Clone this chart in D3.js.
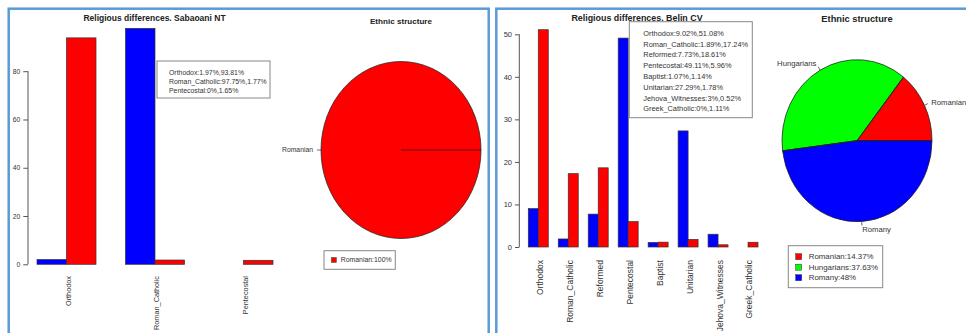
<!DOCTYPE html>
<html>
<head>
<meta charset="utf-8">
<script src="https://cdn.jsdelivr.net/npm/d3@7"></script>
<style>
  body { margin: 0; background: #fff; }
  svg { display: block; font-family: "Liberation Sans", Arial, sans-serif; }
</style>
</head>
<body>
<div id="chart"></div>
<script>
// ---- data ----
const leftCategories = ["Orthodox", "Roman_Catholic", "Pentecostal"];
const leftBlue = [1.97, 97.75, 0];
const leftRed = [93.81, 1.77, 1.65];
const leftTicks = [0, 20, 40, 60, 80];

const rightCategories = ["Orthodox", "Roman_Catholic", "Reformed", "Pentecostal",
  "Baptist", "Unitarian", "Jehova_Witnesses", "Greek_Catholic"];
const rightBlue = [9.02, 1.89, 7.73, 49.11, 1.07, 27.29, 3, 0];
const rightRed = [51.08, 17.24, 18.61, 5.96, 1.14, 1.78, 0.52, 1.11];
const rightTicks = [0, 10, 20, 30, 40, 50];

const leftEthnicNames = ["Romanian"];
const leftEthnicPct = [100];
const rightEthnicNames = ["Romanian", "Hungarians", "Romany"];
const rightEthnicPct = [14.37, 37.63, 48];
const ethnicColors = ["#ff0000", "#00ff00", "#0000ff"];

const svg = d3.select("#chart").append("svg")
    .attr("width", 966)
    .attr("height", 333);

// panel frames
svg.append("rect").attr("x", 8.7).attr("y", 8.7).attr("width", 480).attr("height", 340)
    .attr("fill", "none").attr("stroke", "#5b9bd5").attr("stroke-width", 2.5);
svg.append("rect").attr("x", 496.3).attr("y", 8.7).attr("width", 500).attr("height", 340)
    .attr("fill", "none").attr("stroke", "#5b9bd5").attr("stroke-width", 2.5);

function drawBars(cfg) {
    const g = svg.append("g");

    const x = d3.scaleBand()
        .domain(cfg.categories)
        .range(cfg.xRange)
        .paddingInner(1 / 3)
        .paddingOuter(0);
    const xs = d3.scaleBand().domain(["blue", "red"]).range([0, x.bandwidth()]);
    const y = d3.scaleLinear().domain(cfg.yDomain).range(cfg.yRange);

    // title
    g.append("text")
        .attr("x", cfg.titleX).attr("y", cfg.titleY)
        .attr("text-anchor", "middle")
        .attr("font-weight", "bold")
        .attr("font-size", cfg.titleSize)
        .attr("fill", "#222")
        .text(cfg.title);

    // y axis, R style (line only across tick range)
    const axisG = g.append("g")
        .attr("transform", `translate(${cfg.axisX},0)`)
        .call(d3.axisLeft(y).tickValues(cfg.ticks).tickSize(cfg.tickLen).tickSizeOuter(0).tickPadding(3));
    axisG.select(".domain").remove();
    axisG.append("line")
        .attr("y1", y(cfg.ticks[0])).attr("y2", y(cfg.ticks[cfg.ticks.length - 1]))
        .attr("stroke", "#555");
    axisG.selectAll(".tick line").attr("stroke", "#555");
    axisG.selectAll(".tick text")
        .attr("font-size", cfg.tickFont)
        .attr("fill", "#333")
        .attr("font-family", "Liberation Sans, Arial, sans-serif");

    const rows = cfg.categories.map((c, i) => ({cat: c, blue: cfg.blue[i], red: cfg.red[i]}));

    const groups = g.selectAll(".grp").data(rows).join("g")
        .attr("class", "grp")
        .attr("transform", d => `translate(${x(d.cat)},0)`);

    groups.selectAll("rect")
        .data(d => [{k: "blue", v: d.blue}, {k: "red", v: d.red}])
        .join("rect")
        .attr("x", d => xs(d.k))
        .attr("width", xs.bandwidth())
        .attr("y", d => y(d.v))
        .attr("height", d => y(0) - y(d.v))
        .attr("fill", d => d.k === "blue" ? "#0000ff" : "#ff0000")
        .attr("stroke", "#333")
        .attr("stroke-width", 0.7);

    // rotated category labels
    g.selectAll(".cat").data(cfg.categories).join("text")
        .attr("class", "cat")
        .attr("transform", d => `translate(${x(d) + x.bandwidth() / 2 + 1.5},${cfg.labelTop}) rotate(-90)`)
        .attr("text-anchor", "end")
        .attr("dy", "0.35em")
        .attr("font-size", cfg.labelFont)
        .attr("fill", "#333")
        .text(d => d);

    // info box
    const lines = rows.map(d => `${d.cat}:${d.blue}%,${d.red}%`);
    g.append("rect")
        .attr("x", cfg.box[0]).attr("y", cfg.box[1])
        .attr("width", cfg.box[2]).attr("height", cfg.box[3])
        .attr("fill", "#fff").attr("stroke", "#888").attr("stroke-width", 1);
    g.selectAll(".info").data(lines).join("text")
        .attr("class", "info")
        .attr("x", cfg.boxTextX)
        .attr("y", (d, i) => cfg.boxTextY + i * cfg.boxLine)
        .attr("dy", "0.35em")
        .attr("font-size", cfg.boxFont)
        .attr("fill", "#333")
        .text(d => d);
}

function drawPie(cfg) {
    const g = svg.append("g");

    g.append("text")
        .attr("x", cfg.cx).attr("y", cfg.titleY)
        .attr("text-anchor", "middle")
        .attr("font-weight", "bold")
        .attr("font-size", cfg.titleSize)
        .attr("fill", "#222")
        .text("Ethnic structure");

    const data = cfg.names.map((n, i) => ({name: n, value: cfg.values[i], color: ethnicColors[i]}));
    // R pie: start at 3 o'clock, counter-clockwise
    const pie = d3.pie().value(d => d.value).sort(null)
        .startAngle(Math.PI / 2).endAngle(Math.PI / 2 - 2 * Math.PI);
    const arcs = pie(data);
    const arc = d3.arc().innerRadius(0).outerRadius(cfg.ry);

    const pg = g.append("g")
        .attr("transform", `translate(${cfg.cx},${cfg.cy}) scale(${cfg.rx / cfg.ry},1)`);
    pg.selectAll("path").data(arcs).join("path")
        .attr("d", arc)
        .attr("fill", d => d.data.color)
        .attr("stroke", "#222")
        .attr("stroke-width", 0.8);
    pg.selectAll(".edge").data(arcs).join("line")
        .attr("class", "edge")
        .attr("x1", 0).attr("y1", 0)
        .attr("x2", d => Math.sin(d.startAngle) * cfg.ry)
        .attr("y2", d => -Math.cos(d.startAngle) * cfg.ry)
        .attr("stroke", "#222")
        .attr("stroke-width", 0.8);

    const pt = (a, k) => [cfg.cx + Math.sin(a) * cfg.rx * k, cfg.cy - Math.cos(a) * cfg.ry * k];
    arcs.forEach(d => {
        const mid = (d.startAngle + d.endAngle) / 2;
        const p1 = pt(mid, 1), p2 = pt(mid, 1.05), p3 = pt(mid, 1.1);
        g.append("line")
            .attr("x1", p1[0]).attr("y1", p1[1]).attr("x2", p2[0]).attr("y2", p2[1])
            .attr("stroke", "#444").attr("stroke-width", 0.8);
        g.append("text")
            .attr("x", p3[0]).attr("y", p3[1])
            .attr("dy", "0.35em")
            .attr("text-anchor", Math.sin(mid) >= 0 ? "start" : "end")
            .attr("font-size", cfg.labelFont)
            .attr("fill", "#333")
            .text(d.data.name);
    });

    // legend
    g.append("rect")
        .attr("x", cfg.box[0]).attr("y", cfg.box[1])
        .attr("width", cfg.box[2]).attr("height", cfg.box[3])
        .attr("fill", "#fff").attr("stroke", "#888").attr("stroke-width", 1);
    const items = g.selectAll(".leg").data(data).join("g")
        .attr("class", "leg")
        .attr("transform", (d, i) => `translate(${cfg.legX},${cfg.legY + i * cfg.legLine})`);
    items.append("rect")
        .attr("x", 0).attr("y", -cfg.sq / 2)
        .attr("width", cfg.sq).attr("height", cfg.sq)
        .attr("fill", d => d.color)
        .attr("stroke", "#333").attr("stroke-width", 0.5);
    items.append("text")
        .attr("x", cfg.legTextDx).attr("y", 0)
        .attr("dy", "0.35em")
        .attr("font-size", cfg.legFont)
        .attr("fill", "#333")
        .text(d => `${d.name}:${d.value}%`);
}

drawBars({
    title: "Religious differences. Sabaoani NT", titleX: 154.5, titleY: 21.3, titleSize: 8.5,
    categories: leftCategories, blue: leftBlue, red: leftRed, ticks: leftTicks,
    xRange: [37, 273], yDomain: [0, 80], yRange: [264.3, 71.2],
    axisX: 28, tickLen: 4.7, tickFont: 6.8, labelTop: 276, labelFont: 7.3,
    box: [157, 61, 113, 37], boxTextX: 169, boxTextY: 72.7, boxLine: 8.7, boxFont: 6.9
});

drawBars({
    title: "Religious differences. Belin CV", titleX: 637, titleY: 20.5, titleSize: 8.9,
    categories: rightCategories, blue: rightBlue, red: rightRed, ticks: rightTicks,
    xRange: [528.3, 758], yDomain: [0, 50], yRange: [247, 34.3],
    axisX: 519.3, tickLen: 4.3, tickFont: 7.5, labelTop: 260, labelFont: 8.5,
    box: [629.3, 21.7, 123, 96], boxTextX: 643.3, boxTextY: 33.3, boxLine: 10.8, boxFont: 7.4
});

drawPie({
    names: leftEthnicNames, values: leftEthnicPct,
    cx: 401, cy: 150, rx: 80, ry: 88.5, titleY: 23.6, titleSize: 8.1, labelFont: 6.8,
    box: [324, 250.7, 71.3, 18.6], legX: 331.5, legY: 260, legLine: 10, sq: 4.8, legTextDx: 9.2, legFont: 6.9
});

drawPie({
    names: rightEthnicNames, values: rightEthnicPct,
    cx: 857, cy: 140.7, rx: 75, ry: 81, titleY: 22.3, titleSize: 9.3, labelFont: 7.7,
    box: [788.3, 245.7, 94.4, 42], legX: 795.7, legY: 256.7, legLine: 10.5, sq: 6, legTextDx: 13, legFont: 7.9
});
</script>
</body>
</html>
